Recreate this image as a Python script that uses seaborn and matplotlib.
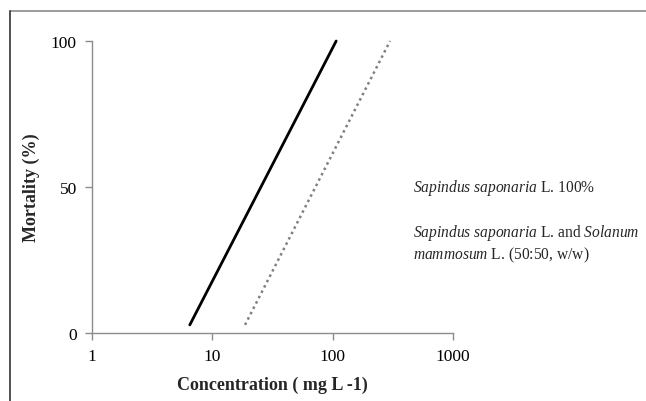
import matplotlib
matplotlib.use("Agg")
import matplotlib.pyplot as plt
from matplotlib.lines import Line2D
import seaborn as sns
import pandas as pd

# Data
conc_sap100 = [6.5, 107]
mort_sap100 = [2.8, 100]
conc_mix = [18.7, 300]
mort_mix = [2.8, 100]
x_ticks = [1, 10, 100, 1000]
x_tick_labels = ["1", "10", "100", "1000"]
y_ticks = [0, 50, 100]

sns.set_theme(style="white")
plt.rcParams["font.family"] = ["Liberation Serif", "DejaVu Serif"]
plt.rcParams["mathtext.fontset"] = "custom"
plt.rcParams["mathtext.rm"] = "Liberation Serif"
plt.rcParams["mathtext.it"] = "Liberation Serif:italic"

fig = plt.figure(figsize=(6.46, 4.02), dpi=100)
ax = fig.add_axes([0.1424, 0.169, 0.7012 - 0.1424, 0.8955 - 0.169])

df1 = pd.DataFrame({"c": conc_sap100, "m": mort_sap100})
df2 = pd.DataFrame({"c": conc_mix, "m": mort_mix})
sns.lineplot(data=df1, x="c", y="m", ax=ax, color="black", lw=2.0, clip_on=False)
sns.lineplot(data=df2, x="c", y="m", ax=ax, color="#808080", lw=1.8,
             linestyle=(0, (1, 1.4)), clip_on=False)

ax.set_xscale("log")
ax.set_xlim(1, 1000)
ax.set_ylim(0, 100)
ax.set_xticks(x_ticks)
ax.set_xticklabels(x_tick_labels)
ax.set_yticks(y_ticks)
ax.xaxis.set_minor_locator(matplotlib.ticker.NullLocator())

for s in ["top", "right"]:
    ax.spines[s].set_visible(False)
for s in ["left", "bottom"]:
    ax.spines[s].set_color("#8c8c8c")
    ax.spines[s].set_linewidth(1.0)
ax.tick_params(axis="both", which="major", direction="out", length=5, width=1,
               color="#8c8c8c", labelsize=12.5, labelcolor="black", pad=6,
               bottom=True, left=True)

ax.set_xlabel("Concentration ( mg L -1)", fontsize=13, fontweight="bold", labelpad=8)
ax.set_ylabel("Mortality (%)", fontsize=13, fontweight="bold", labelpad=8)

# Legend text (text-only, as in reference)
fig.text(413 / 646, 1 - 188 / 402, r"$\it{Sapindus\ saponaria}$ L. 100%",
         fontsize=11.2, va="center", ha="left")
fig.text(413 / 646, 1 - 233 / 402, r"$\it{Sapindus\ saponaria}$ L. and $\it{Solanum}$",
         fontsize=11.2, va="center", ha="left")
fig.text(413 / 646, 1 - 255 / 402, r"$\it{mammosum}$ L. (50:50, w/w)",
         fontsize=11.2, va="center", ha="left")

# Outer frame of the image
fig.add_artist(Line2D([9.5 / 646, 1], [1 - 12 / 402, 1 - 12 / 402], color="#8a8a8a", lw=1.2,
                      transform=fig.transFigure))
fig.add_artist(Line2D([10 / 646, 10 / 646], [0, 1 - 12 / 402], color="#333333", lw=1.2,
                      transform=fig.transFigure))

fig.savefig("out.png", dpi=100)
